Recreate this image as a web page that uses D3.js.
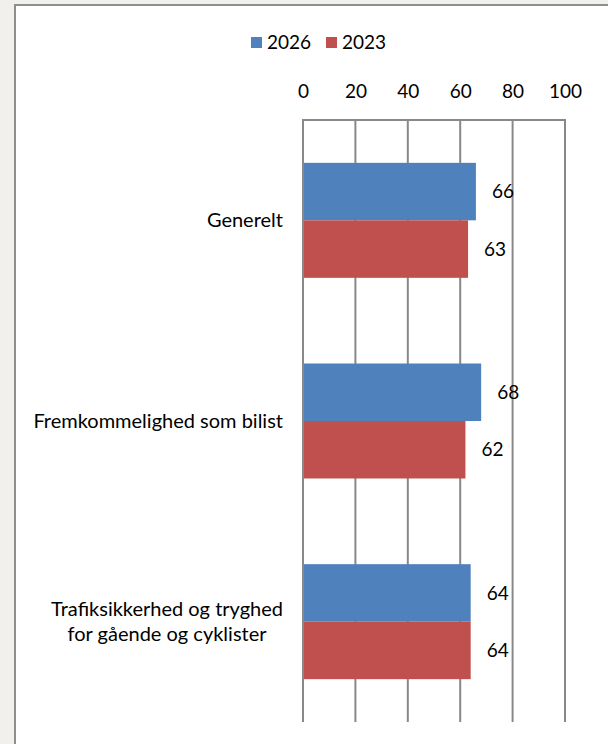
<!DOCTYPE html>
<html><head><meta charset="utf-8">
<script src="https://cdn.jsdelivr.net/npm/d3@7"></script>
<style>
html,body{margin:0;padding:0;background:#f1f0ec;}
svg{display:block;}
text{font-family:Lato,"Open Sans",sans-serif;fill:#000;}
</style></head>
<body>
<svg id="chart" width="608" height="744"></svg>
<script>
const categories = ["Generelt", "Fremkommelighed som bilist", "Trafiksikkerhed og tryghed\nfor gående og cyklister"];
const seriesNames = ["2026", "2023"];
const values2026 = [66, 68, 64];
const values2023 = [63, 62, 64];
const tickValues = [0, 20, 40, 60, 80, 100];
const colors = ["#4f81bd", "#c0504d"];

const svg = d3.select("#chart");
const W = 608, H = 744;
svg.append("rect").attr("width", W).attr("height", H).attr("fill", "#f1f0ec");
svg.append("rect").attr("x", 15).attr("y", 5).attr("width", W + 20).attr("height", H + 20)
  .attr("fill", "#fff").attr("stroke", "#8e8e8e").attr("stroke-width", 2);

const plot = {left: 303, right: 565, top: 120, bottom: 722};
const x = d3.scaleLinear().domain([0, 100]).range([plot.left, plot.right]);
const y = d3.scaleBand().domain(categories).range([plot.top, plot.bottom]).paddingInner(0.427).paddingOuter(0.2135);
const ySub = d3.scaleBand().domain(seriesNames).range([0, y.bandwidth()]).padding(0);

const fontSize = 19;
const catFontSize = 20;
const gridColor = "#888";

// gridlines
const g = svg.append("g");
g.selectAll("line.grid").data(tickValues).join("line")
  .attr("x1", d => x(d)).attr("x2", d => x(d))
  .attr("y1", plot.top).attr("y2", plot.bottom)
  .attr("stroke", gridColor).attr("stroke-width", 2);
// top axis line
g.append("line").attr("x1", x(0) - 1).attr("x2", x(100) + 1)
  .attr("y1", plot.top).attr("y2", plot.top)
  .attr("stroke", gridColor).attr("stroke-width", 2);

// axis tick labels
const axis = d3.axisTop(x).tickValues(tickValues).tickSize(0).tickPadding(0);
const ax = svg.append("g").attr("transform", `translate(0,${plot.top - 22})`).call(axis);
ax.select(".domain").remove();
ax.selectAll("text").attr("font-size", fontSize).attr("font-family", "Lato,'Open Sans',sans-serif").attr("fill", "#000");

// bars
const data = categories.map((c, i) => ({cat: c, vals: [values2026[i], values2023[i]]}));
const groups = svg.append("g").selectAll("g").data(data).join("g")
  .attr("transform", d => `translate(0,${y(d.cat)})`);
groups.selectAll("rect").data(d => d.vals.map((v, j) => ({s: seriesNames[j], v, j}))).join("rect")
  .attr("x", x(0) + 1).attr("y", d => ySub(d.s))
  .attr("width", d => x(d.v) - x(0) - 1).attr("height", ySub.bandwidth())
  .attr("fill", d => colors[d.j]);
groups.selectAll("text.val").data(d => d.vals.map((v, j) => ({s: seriesNames[j], v, j}))).join("text")
  .attr("class", "val")
  .attr("x", d => x(d.v) + 16).attr("y", d => ySub(d.s) + ySub.bandwidth() / 2)
  .attr("dy", "0.35em").attr("font-size", fontSize).text(d => d.v);

// category labels
const labelRight = 283;
const lineH = 25;
categories.forEach(c => {
  const lines = c.split("\n");
  const t = svg.append("text").attr("font-size", catFontSize).attr("text-anchor", "middle");
  const cy = y(c) + y.bandwidth() / 2;
  lines.forEach((ln, k) => {
    t.append("tspan").attr("y", cy + (k - (lines.length - 1) / 2) * lineH).attr("dy", "0.35em").text(ln);
  });
  const maxW = d3.max(t.selectAll("tspan").nodes(), n => n.getComputedTextLength());
  t.selectAll("tspan").attr("x", labelRight - maxW / 2);
});

// legend
const legend = svg.append("g");
const legendItems = [{name: seriesNames[0], x: 251}, {name: seriesNames[1], x: 326}];
legendItems.forEach((it, i) => {
  legend.append("rect").attr("x", it.x).attr("y", 37).attr("width", 11).attr("height", 11).attr("fill", colors[i]);
  legend.append("text").attr("x", it.x + 16).attr("y", 42.5).attr("dy", "0.35em")
    .attr("font-size", fontSize).text(it.name);
});
</script>
</body></html>
